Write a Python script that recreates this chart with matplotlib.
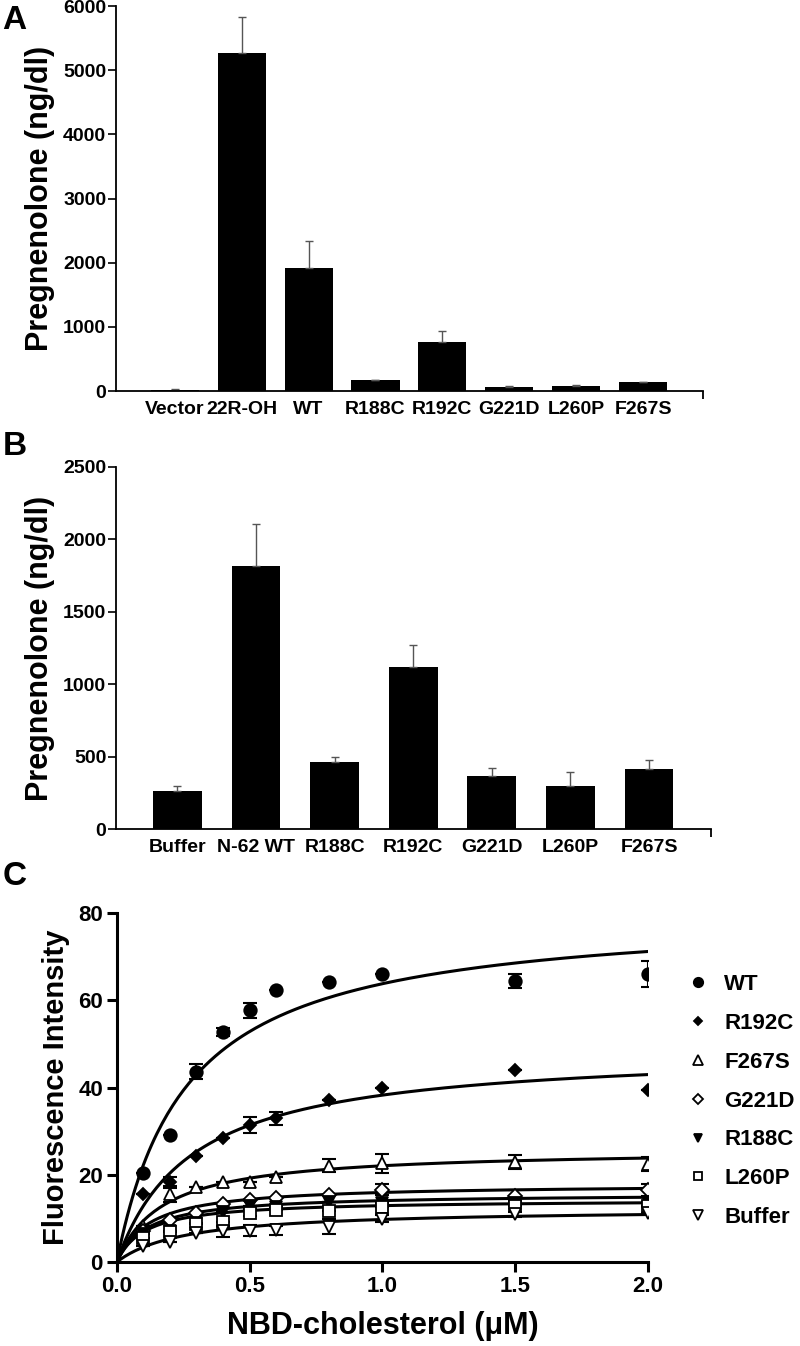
import numpy as np
import matplotlib
matplotlib.use("Agg")
import matplotlib.pyplot as plt

plt.rcParams['font.family'] = ['Liberation Sans', 'DejaVu Sans']
plt.rcParams['font.weight'] = 'bold'

# panel A
a_labels = ["Vector", "22R-OH", "WT", "R188C", "R192C", "G221D", "L260P", "F267S"]
a_vals = [18, 5270, 1920, 167, 765, 63, 78, 136]
a_err = [10, 565, 424, 10, 167, 21, 16, 10]

# panel B
b_labels = ["Buffer", "N-62 WT", "R188C", "R192C", "G221D", "L260P", "F267S"]
b_vals = [265, 1816, 463, 1117, 364, 295, 412]
b_err = [34, 293, 37, 151, 60, 96, 62]

# panel C
conc = [0.1, 0.2, 0.3, 0.4, 0.5, 0.6, 0.8, 1.0, 1.5, 2.0]
series = ["WT", "R192C", "F267S", "G221D", "R188C", "L260P", "Buffer"]
fluo = {
    "WT":     [20.5, 29.1, 43.6, 52.7, 57.7, 62.4, 64.1, 66.1, 64.4, 66.1],
    "R192C":  [15.6, 18.3, 24.4, 28.4, 31.4, 32.9, 37.2, 39.8, 44.0, 39.4],
    "F267S":  [8.3, 15.6, 17.1, 18.4, 18.4, 19.6, 22.1, 22.6, 22.9, 22.4],
    "G221D":  [7.2, 9.6, 11.2, 13.4, 14.2, 14.6, 15.4, 16.6, 15.2, 16.5],
    "R188C":  [6.4, 7.0, 8.9, 11.4, 12.9, 12.7, 13.8, 13.5, 13.6, 13.8],
    "L260P":  [5.4, 6.8, 8.6, 9.2, 11.3, 11.9, 11.8, 12.6, 12.9, 12.8],
    "Buffer": [3.6, 4.7, 6.6, 7.0, 7.2, 7.3, 8.1, 9.9, 10.9, 11.3],
}
fluo_err = {
    "WT":     [0, 0, 1.7, 1.0, 1.7, 0, 0, 0, 1.6, 3.0],
    "R192C":  [0, 1.3, 0, 0, 1.8, 1.5, 0, 0, 0, 0],
    "F267S":  [0, 1.8, 0, 0, 0, 0, 1.4, 2.2, 1.6, 1.6],
    "G221D":  [0, 0, 0, 0, 0, 0, 0, 1.2, 1.2, 1.3],
    "R188C":  [0, 0, 0, 0, 0, 0, 0, 0, 0, 0],
    "L260P":  [0, 0, 0, 0, 0.8, 0, 0, 0, 0, 0],
    "Buffer": [0, 0, 0, 1.2, 1.2, 1.0, 1.7, 0.8, 0.6, 0],
}
# one-site binding fit: Bmax, Kd
fit_bmax = {"WT": 80.5, "R192C": 49.0, "F267S": 25.9, "G221D": 17.9,
            "R188C": 15.7, "L260P": 14.3, "Buffer": 12.3}
fit_kd = {"WT": 0.262, "R192C": 0.281, "F267S": 0.174, "G221D": 0.123,
          "R188C": 0.116, "L260P": 0.107, "Buffer": 0.261}

markers = {"WT": ("o", "black", 9), "R192C": ("D", "black", 6),
           "F267S": ("^", "white", 9), "G221D": ("D", "white", 7),
           "R188C": ("v", "black", 8), "L260P": ("s", "white", 8),
           "Buffer": ("v", "white", 9)}

fig = plt.figure(figsize=(8, 13.46), dpi=100)


def bar_panel(ax, labels, vals, err, ymax, step, width):
    x = np.arange(len(labels))
    ax.bar(x, vals, width=width, color="black",
           yerr=[np.zeros(len(err)), err], ecolor="#555555",
           error_kw=dict(elinewidth=1, capsize=3, capthick=1))
    ax.set_ylim(0, ymax)
    ax.set_yticks(np.arange(0, ymax + 1, step))
    ax.set_xticks(x)
    ax.set_xticklabels(labels, fontsize=14, fontweight="bold")
    ax.tick_params(axis="x", length=0, pad=7)
    ax.tick_params(axis="y", length=6, width=1.2, labelsize=14, pad=1)
    for t in ax.get_yticklabels():
        t.set_fontweight("bold")
    for s in ["top", "right"]:
        ax.spines[s].set_visible(False)
    for s in ["left", "bottom"]:
        ax.spines[s].set_linewidth(1.3)
    ax.set_ylabel("Pregnenolone (ng/dl)", fontsize=22, fontweight="bold", labelpad=6)


axA = fig.add_axes([0.145, 0.7095, 0.734, 0.286])
bar_panel(axA, a_labels, a_vals, a_err, 6000, 1000, 0.72)
axA.set_xlim(-0.88, 7.9)
axA.set_xticks([7.9], minor=True)
axA.tick_params(axis="x", which="minor", length=6, width=1.3)

axB = fig.add_axes([0.145, 0.3841, 0.744, 0.269])
bar_panel(axB, b_labels, b_vals, b_err, 2500, 500, 0.62)
axB.set_xlim(-0.78, 6.79)
axB.set_xticks([6.79], minor=True)
axB.tick_params(axis="x", which="minor", length=6, width=1.3)

# panel C
axC = fig.add_axes([0.146, 0.0624, 0.664, 0.2593])
xs = np.linspace(0, 2.0, 200)
handles = []
for name in series:
    m, fc, ms = markers[name]
    y = fluo[name]
    bm, kd = fit_bmax[name], fit_kd[name]
    axC.plot(xs, bm * xs / (kd + xs), color="black", lw=2.2, zorder=2)
    axC.errorbar(conc, y, yerr=fluo_err[name], fmt="none", ecolor="black",
                 elinewidth=1.5, capsize=5, capthick=1.5, zorder=3)
    h, = axC.plot(conc, y, linestyle="none", marker=m, markersize=ms,
                  markerfacecolor=fc, markeredgecolor="black", markeredgewidth=1.3,
                  label=name, zorder=4)
    handles.append(h)

axC.set_xlim(0, 2.0)
axC.set_ylim(0, 80)
axC.set_xticks([0, 0.5, 1.0, 1.5, 2.0])
axC.set_xticklabels(["0.0", "0.5", "1.0", "1.5", "2.0"])
axC.set_yticks([0, 20, 40, 60, 80])
axC.tick_params(axis="both", length=7, width=2.2, labelsize=16, pad=3)
for t in axC.get_xticklabels() + axC.get_yticklabels():
    t.set_fontweight("bold")
for s in ["top", "right"]:
    axC.spines[s].set_visible(False)
for s in ["left", "bottom"]:
    axC.spines[s].set_linewidth(2.2)
axC.set_xlabel("NBD-cholesterol (\u03bcM)", fontsize=22, fontweight="bold", labelpad=10)
axC.set_ylabel("Fluorescence Intensity", fontsize=21, fontweight="bold", labelpad=6)

leg = axC.legend(handles=handles, loc="upper left", bbox_to_anchor=(1.06, 0.85),
                 frameon=False, fontsize=16, handlelength=0.8, handletextpad=0.8,
                 labelspacing=0.8, markerscale=0.75, borderaxespad=0)
for t in leg.get_texts():
    t.set_fontweight("bold")

fig.text(0.003, 0.996, "A", fontsize=24, fontweight="bold", va="top", ha="left")
fig.text(0.003, 0.68, "B", fontsize=24, fontweight="bold", va="top", ha="left")
fig.text(0.003, 0.36, "C", fontsize=24, fontweight="bold", va="top", ha="left")

fig.savefig("out.png", dpi=100)
